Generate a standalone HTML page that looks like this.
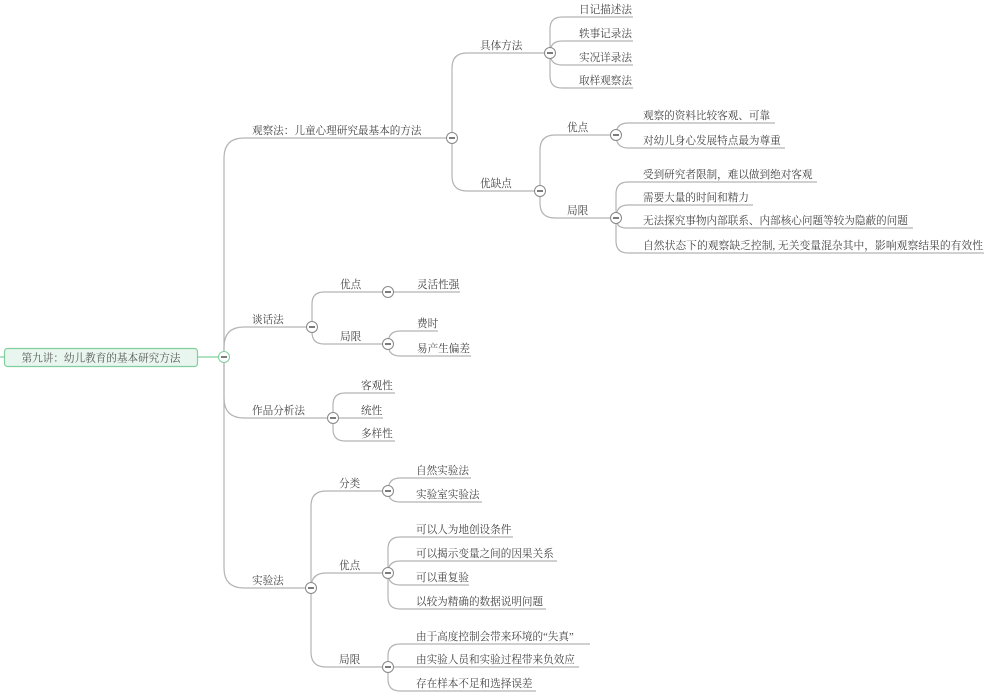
<!DOCTYPE html>
<html><head><meta charset="utf-8"><style>
html,body{margin:0;padding:0;background:#fff;}
svg{display:block;}
text{font-family:"Liberation Serif","Noto Serif CJK SC",serif;font-size:10.6px;fill:#444;}
.l{fill:none;stroke:#b3b3b3;stroke-width:1.2;}
.c circle{fill:#fff;stroke:#888;stroke-width:1;}
.c line{stroke:#444;stroke-width:1.4;}
</style></head><body>
<svg width="1000" height="698" viewBox="0 0 1000 698" xmlns="http://www.w3.org/2000/svg">
<line x1="0" y1="357" x2="4" y2="357" stroke="#7fcf9d" stroke-width="1.2"/>
<line x1="198" y1="357" x2="219" y2="357" stroke="#7fcf9d" stroke-width="1.2"/>
<rect x="4.5" y="348.5" width="193" height="18" rx="3" fill="#e9f6ef" stroke="#7fcf9d" stroke-width="1.2"/>
<text x="101" y="361.5" text-anchor="middle" style="fill:#555">第九讲：幼儿教育的基本研究方法</text>

<g class="l">
<path d="M224 357 L224 158 Q224 138 244 138 L446 138"/>
<path d="M224 357 L224 347 Q224 327 244 327 L306 327"/>
<path d="M224 357 L224 398 Q224 418 244 418 L327 418"/>
<path d="M224 357 L224 568 Q224 588 244 588 L305 588"/>

<path d="M452 138 L452 68 Q452 53 467 53 L545 53"/>
<path d="M452 138 L452 176 Q452 191 467 191 L535 191"/>
<path d="M550 53 L550 29 Q550 17 562 17 L633 17"/>
<path d="M550 53 Q550 41 562 41 L633 41"/>
<path d="M550 53 Q550 65 562 65 L633 65"/>
<path d="M550 53 L550 76 Q550 88 562 88 L633 88"/>
<path d="M540 191 L540 150 Q540 135 555 135 L611 135"/>
<path d="M540 191 L540 203 Q540 218 555 218 L611 218"/>
<path d="M616 135 Q616 123 628 123 L775 123"/>
<path d="M616 135 Q616 148 628 148 L785 148"/>
<path d="M616 218 L616 194 Q616 182 628 182 L817 182"/>
<path d="M616 218 Q616 205 628 205 L753 205"/>
<path d="M616 218 Q616 228 626 228 L913 228"/>
<path d="M616 218 L616 241 Q616 253 628 253 L984 253"/>

<path d="M312 327 L312 304 Q312 292 324 292 L383 292"/>
<path d="M312 327 L312 332 Q312 344 324 344 L383 344"/>
<path d="M393 292 L460 292"/>
<path d="M388 344 Q388 331 400 331 L438 331"/>
<path d="M388 344 Q388 356 400 356 L471 356"/>

<path d="M333 418 L333 405 Q333 393 345 393 L395 393"/>
<path d="M338 418 L383 418"/>
<path d="M333 418 L333 429 Q333 441 345 441 L395 441"/>

<path d="M311 588 L311 506 Q311 491 326 491 L383 491"/>
<path d="M311 588 Q311 573 326 573 L383 573"/>
<path d="M311 588 L311 652 Q311 667 326 667 L383 667"/>
<path d="M388 491 Q388 478 400 478 L471 478"/>
<path d="M388 491 Q388 502 400 502 L482 502"/>
<path d="M388 573 L388 549 Q388 537 400 537 L513 537"/>
<path d="M388 573 Q388 561 400 561 L557 561"/>
<path d="M388 573 Q388 585 400 585 L469 585"/>
<path d="M388 573 L388 597 Q388 609 400 609 L546 609"/>
<path d="M388 667 L388 656 Q388 644 400 644 L590 644"/>
<path d="M393 667 L579 667"/>
<path d="M388 667 L388 679 Q388 691 400 691 L536 691"/>
</g>

<g class="c">
<g transform="translate(224,357)"><circle r="5.5" style="stroke:#7fcf9d"/><line x1="-3" x2="3"/></g>
<g transform="translate(452,138)"><circle r="5.5"/><line x1="-3" x2="3"/></g>
<g transform="translate(550,53)"><circle r="5.5"/><line x1="-3" x2="3"/></g>
<g transform="translate(540,191)"><circle r="5.5"/><line x1="-3" x2="3"/></g>
<g transform="translate(616,135)"><circle r="5.5"/><line x1="-3" x2="3"/></g>
<g transform="translate(616,218)"><circle r="5.5"/><line x1="-3" x2="3"/></g>
<g transform="translate(312,327)"><circle r="5.5"/><line x1="-3" x2="3"/></g>
<g transform="translate(388,292)"><circle r="5.5"/><line x1="-3" x2="3"/></g>
<g transform="translate(388,344)"><circle r="5.5"/><line x1="-3" x2="3"/></g>
<g transform="translate(333,418)"><circle r="5.5"/><line x1="-3" x2="3"/></g>
<g transform="translate(311,588)"><circle r="5.5"/><line x1="-3" x2="3"/></g>
<g transform="translate(388,491)"><circle r="5.5"/><line x1="-3" x2="3"/></g>
<g transform="translate(388,573)"><circle r="5.5"/><line x1="-3" x2="3"/></g>
<g transform="translate(388,667)"><circle r="5.5"/><line x1="-3" x2="3"/></g>
</g>

<text x="252" y="134">观察法：儿童心理研究最基本的方法</text>
<text x="252" y="323">谈话法</text>
<text x="252" y="414">作品分析法</text>
<text x="252" y="584">实验法</text>

<text x="480" y="49">具体方法</text>
<text x="480" y="187">优缺点</text>
<text x="579" y="13">日记描述法</text>
<text x="579" y="37">轶事记录法</text>
<text x="579" y="61">实况详录法</text>
<text x="579" y="84">取样观察法</text>
<text x="567" y="131">优点</text>
<text x="567" y="214">局限</text>
<text x="643" y="119">观察的资料比较客观、可靠</text>
<text x="643" y="144">对幼儿身心发展特点最为尊重</text>
<text x="643" y="178">受到研究者限制，难以做到绝对客观</text>
<text x="643" y="201">需要大量的时间和精力</text>
<text x="643" y="224">无法探究事物内部联系、内部核心问题等较为隐蔽的问题</text>
<text x="643" y="249" textLength="340" lengthAdjust="spacingAndGlyphs">自然状态下的观察缺乏控制, 无关变量混杂其中，影响观察结果的有效性</text>

<text x="340" y="288">优点</text>
<text x="340" y="340">局限</text>
<text x="417" y="288">灵活性强</text>
<text x="417" y="327">费时</text>
<text x="417" y="352">易产生偏差</text>

<text x="361" y="389">客观性</text>
<text x="361" y="414">统性</text>
<text x="361" y="437">多样性</text>

<text x="339" y="487">分类</text>
<text x="339" y="569">优点</text>
<text x="339" y="663">局限</text>
<text x="416" y="474">自然实验法</text>
<text x="416" y="498">实验室实验法</text>
<text x="416" y="533">可以人为地创设条件</text>
<text x="416" y="557">可以揭示变量之间的因果关系</text>
<text x="416" y="581">可以重复验</text>
<text x="416" y="605">以较为精确的数据说明问题</text>
<text x="416" y="640">由于高度控制会带来环境的“失真”</text>
<text x="416" y="663">由实验人员和实验过程带来负效应</text>
<text x="416" y="687">存在样本不足和选择误差</text>
</svg>
</body></html>
